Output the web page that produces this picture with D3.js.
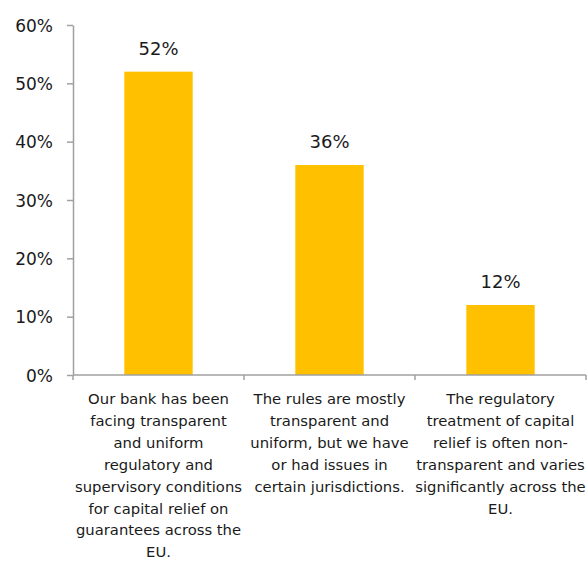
<!DOCTYPE html>
<html>
<head>
<meta charset="utf-8">
<script src="https://cdn.jsdelivr.net/npm/d3@7"></script>
<style>
  html, body { margin: 0; padding: 0; background: #fff; }
  svg text { font-family: "DejaVu Sans", "Noto Sans", sans-serif; fill: #1a1a1a; }
</style>
</head>
<body>
<svg id="chart" width="588" height="563"></svg>
<script>
// Survey answers (share of respondents)
const categories = [
  ["Our bank has been", "facing transparent", "and uniform", "regulatory and", "supervisory conditions", "for capital relief on", "guarantees across the", "EU."],
  ["The rules are mostly", "transparent and", "uniform, but we have", "or had issues in", "certain jurisdictions."],
  ["The regulatory", "treatment of capital", "relief is often non-", "transparent and varies", "significantly across the", "EU."]
];
const values = [0.52, 0.36, 0.12];
const yTicks = [0, 0.1, 0.2, 0.3, 0.4, 0.5, 0.6];

const svg = d3.select("#chart");
const margin = { left: 73, right: 2, top: 25, bottom: 188 };
const W = 588, H = 563;
const font = "'DejaVu Sans', 'Noto Sans', sans-serif";

const x = d3.scaleBand()
  .domain(d3.range(values.length))
  .range([margin.left, W - margin.right])
  .paddingInner(0.6)
  .paddingOuter(0.3);

const y = d3.scaleLinear()
  .domain([0, 0.6])
  .range([H - margin.bottom, margin.top]);

const pct = d3.format(".0%");
const axisColor = "#a0a0a0";

// Bars
svg.append("g").selectAll("rect")
  .data(values)
  .join("rect")
  .attr("x", (d, i) => x(i))
  .attr("y", d => y(d))
  .attr("width", x.bandwidth())
  .attr("height", d => y(0) - y(d))
  .attr("fill", "#FFC000");

// Value labels
svg.append("g").selectAll("text")
  .data(values)
  .join("text")
  .attr("x", (d, i) => x(i) + x.bandwidth() / 2)
  .attr("y", d => y(d) - 17)
  .attr("text-anchor", "middle")
  .attr("font-size", 18)
  .text(d => pct(d));

// Y axis
const yAxis = svg.append("g")
  .attr("transform", `translate(${margin.left},0)`)
  .call(d3.axisLeft(y).tickValues(yTicks).tickFormat(pct).tickSize(6).tickSizeOuter(0).tickPadding(14));
yAxis.select(".domain").attr("stroke", axisColor).attr("stroke-width", 1.5);
yAxis.selectAll(".tick line").attr("stroke", axisColor).attr("stroke-width", 1.5);
yAxis.selectAll(".tick text").attr("font-size", 17).attr("fill", "#1a1a1a")
  .attr("dy", "0.36em")
  .style("font-family", font);

// X axis: baseline with ticks at category boundaries
const boundaries = d3.range(values.length + 1)
  .map(i => margin.left + i * (W - margin.right - margin.left) / values.length);
const xg = svg.append("g");
xg.append("line")
  .attr("x1", margin.left).attr("x2", W - margin.right)
  .attr("y1", y(0)).attr("y2", y(0))
  .attr("stroke", axisColor).attr("stroke-width", 1.5);
xg.selectAll("line.tick")
  .data(boundaries)
  .join("line")
  .attr("class", "tick")
  .attr("x1", d => d).attr("x2", d => d)
  .attr("y1", y(0)).attr("y2", y(0) + 5)
  .attr("stroke", axisColor).attr("stroke-width", 1.5);

// Category labels
const lab = svg.append("g").selectAll("text")
  .data(categories)
  .join("text")
  .attr("text-anchor", "middle")
  .attr("font-size", 14.8)
  .attr("x", (d, i) => x(i) + x.bandwidth() / 2)
  .attr("y", y(0) + 29);
lab.selectAll("tspan")
  .data(d => d)
  .join("tspan")
  .attr("x", function () { return this.parentNode.getAttribute("x"); })
  .attr("dy", (d, i) => i === 0 ? 0 : 21.9)
  .text(d => d);
</script>
</body>
</html>
